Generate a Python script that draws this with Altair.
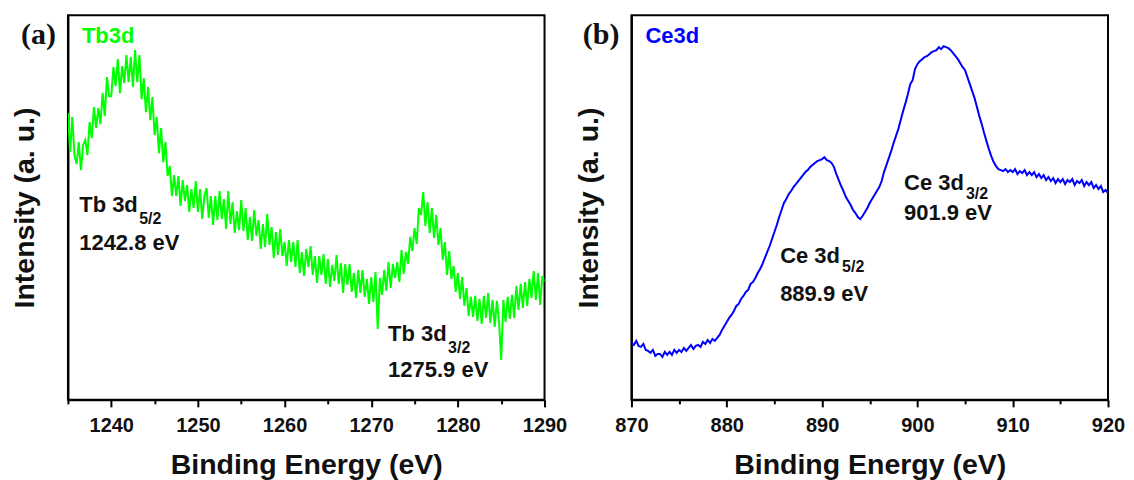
import altair as alt
import pandas as pd

# ---------------- data ----------------
tb_start = 1235.0
tb_step = 0.25
tb_intensity = [
    287, 248, 283, 245, 236, 258, 230, 255, 260, 245, 278, 262,
    293, 272, 292, 276, 307, 284, 323, 304, 304, 333, 314, 341,
    307, 334, 317, 345, 318, 343, 313, 350, 318, 345, 301, 322,
    288, 313, 280, 303, 265, 283, 247, 272, 238, 258, 224, 234,
    204, 225, 204, 224, 194, 220, 199, 215, 188, 211, 192, 219,
    188, 211, 181, 204, 212, 182, 204, 175, 204, 180, 209, 181,
    201, 171, 209, 176, 198, 167, 189, 170, 200, 169, 192, 160,
    183, 159, 190, 164, 180, 151, 176, 153, 186, 155, 173, 142,
    168, 145, 171, 144, 158, 134, 160, 138, 158, 133, 160, 127,
    148, 124, 151, 133, 154, 125, 144, 117, 144, 125, 146, 116,
    141, 113, 135, 119, 145, 116, 137, 107, 136, 115, 136, 108,
    127, 102, 130, 107, 130, 103, 121, 96, 123, 98, 128, 71,
    122, 105, 130, 109, 138, 112, 136, 122, 138, 118, 150, 126,
    148, 136, 163, 149, 172, 156, 192, 185, 208, 174, 198, 167,
    192, 162, 185, 155, 172, 140, 158, 125, 149, 121, 134, 108,
    127, 101, 123, 94, 112, 84, 103, 83, 104, 79, 101, 76,
    104, 82, 107, 77, 100, 73, 99, 78, 40, 100, 78, 103,
    81, 105, 82, 114, 90, 116, 92, 118, 94, 121, 102, 129,
    100, 127, 95, 124, 118,
]
tb_energy = [tb_start + tb_step * i for i in range(len(tb_intensity))]

ce_start = 870.0
ce_step = 0.25
ce_intensity = [
    57, 55, 59, 54, 53, 56, 50, 49, 47, 50, 44, 46, 46, 43, 48, 45,
    48, 45, 50, 47, 50, 48, 52, 49, 52, 55, 51, 54, 55, 53, 58, 56,
    60, 57, 61, 59, 62, 65, 70, 74, 78, 82, 85, 89, 94, 96, 101, 104,
    108, 110, 116, 118, 122, 127, 131, 136, 142, 148, 154, 161,
    168, 175, 183, 190, 197, 201, 206, 209, 213, 216, 219, 222,
    225, 228, 230, 233, 235, 237, 239, 240, 241, 243, 240, 239,
    237, 233, 226, 220, 214, 209, 203, 199, 195, 190, 187, 183,
    181, 184, 188, 192, 197, 201, 205, 209, 213, 219, 228, 235,
    242, 249, 257, 264, 271, 280, 289, 297, 306, 316, 320, 331,
    336, 339, 341, 343, 344, 346, 348, 349, 350, 353, 351, 354,
    353, 352, 350, 347, 344, 341, 337, 333, 330, 323, 316, 309,
    302, 293, 284, 276, 267, 259, 251, 244, 238, 234, 231, 230,
    229, 231, 228, 230, 228, 231, 226, 229, 227, 230, 225, 228,
    225, 228, 223, 226, 222, 225, 220, 223, 219, 222, 217, 221,
    218, 221, 216, 220, 218, 221, 215, 219, 217, 220, 214, 218,
    215, 218, 212, 215, 211, 214, 208, 210, 207,
]
ce_energy = [ce_start + ce_step * i for i in range(len(ce_intensity))]

tb_domain = [1235, 1290]
tb_major = [1240, 1250, 1260, 1270, 1280, 1290]
tb_minor = [1235, 1245, 1255, 1265, 1275, 1285]
ce_domain = [870, 920]
ce_major = [870, 880, 890, 900, 910, 920]
ce_minor = [875, 885, 895, 905, 915]

tb_ann_x = [1236.3, 1271.95]
tb_ann_y1 = [188, 59]
tb_ann_y2 = [150, 23]
tb_ann_main = ["Tb 3d", "Tb 3d"]
tb_ann_sub = ["5/2", "3/2"]
tb_ann_val = ["1242.8 eV", "1275.9 eV"]

ce_ann_x = [885.6, 898.6]
ce_ann_y1 = [137, 210]
ce_ann_y2 = [99, 180]
ce_ann_main = ["Ce 3d", "Ce 3d"]
ce_ann_sub = ["5/2", "3/2"]
ce_ann_val = ["889.9 eV", "901.9 eV"]

SANS = "Liberation Sans"
SERIF = "Liberation Serif"
W, H = 477, 385


def panel(energy, intensity, color, domain, major, minor,
          ax, ay1, ay2, amain, asub, aval, sub_dx, sub_dy, tag, name):
    xs = alt.Scale(domain=domain, nice=False, zero=False)
    ys = alt.Scale(domain=[0, 385], nice=False, zero=False)
    y_axis = alt.Axis(labels=False, ticks=False, title="Intensity (a. u.)",
                      titlePadding=28, grid=False)
    df = pd.DataFrame({"E": energy, "I": intensity})
    line = alt.Chart(df).mark_line(color=color, strokeWidth=2, clip=True).encode(
        x=alt.X("E:Q", scale=xs, axis=alt.Axis(
            values=major, format="d", title="Binding Energy (eV)", orient="bottom",
            tickSize=7, labelPadding=9, titlePadding=15, labelFlush=False,
            grid=False)),
        y=alt.Y("I:Q", scale=ys, axis=y_axis),
    )
    minor_layer = alt.Chart(pd.DataFrame({"E": minor})).mark_point(opacity=0).encode(
        x=alt.X("E:Q", scale=xs, axis=alt.Axis(
            values=minor, labels=False, title=None, tickSize=4, orient="bottom",
            domain=False, grid=False)),
    )
    ann = pd.DataFrame({"x": ax, "y1": ay1, "y2": ay2,
                        "m": amain, "s": asub, "v": aval})
    base = alt.Chart(ann)
    t_main = base.mark_text(align="left", baseline="alphabetic", font=SANS,
                            fontWeight="bold", fontSize=22, color="#111").encode(
        x=alt.X("x:Q", scale=xs, axis=None),
        y=alt.Y("y1:Q", scale=ys, axis=y_axis), text="m:N")
    t_sub = base.mark_text(align="left", baseline="alphabetic", font=SANS,
                           fontWeight="bold", fontSize=16, dx=sub_dx, dy=sub_dy,
                           color="#111").encode(
        x=alt.X("x:Q", scale=xs, axis=None),
        y=alt.Y("y1:Q", scale=ys, axis=y_axis), text="s:N")
    t_val = base.mark_text(align="left", baseline="alphabetic", font=SANS,
                           fontWeight="bold", fontSize=22, color="#111").encode(
        x=alt.X("x:Q", scale=xs, axis=None),
        y=alt.Y("y2:Q", scale=ys, axis=y_axis), text="v:N")
    tag_df = pd.DataFrame({"t": [tag], "n": [name]})
    t_tag = alt.Chart(tag_df).mark_text(align="right", baseline="middle", font=SERIF,
                                        fontWeight="bold", fontSize=30,
                                        color="#111").encode(
        x=alt.value(-12), y=alt.value(20), text="t:N")
    t_name = alt.Chart(tag_df).mark_text(align="left", baseline="alphabetic", font=SANS,
                                         fontWeight="bold", fontSize=22,
                                         color=color).encode(
        x=alt.value(14), y=alt.value(28), text="n:N")
    return alt.layer(line, minor_layer, t_main, t_sub, t_val, t_tag, t_name).resolve_axis(
        x="independent").properties(width=W, height=H)


left = panel(tb_energy, tb_intensity, "#00ff00", tb_domain, tb_major, tb_minor,
             tb_ann_x, tb_ann_y1, tb_ann_y2, tb_ann_main, tb_ann_sub, tb_ann_val,
             60, 12, "(a)", "Tb3d")
right = panel(ce_energy, ce_intensity, "#0000ff", ce_domain, ce_major, ce_minor,
              ce_ann_x, ce_ann_y1, ce_ann_y2, ce_ann_main, ce_ann_sub, ce_ann_val,
              62, 9, "(b)", "Ce3d")

chart = alt.hconcat(left, right, spacing=87, bounds="flush").properties(
    padding={"left": 2, "top": 6, "right": 0, "bottom": 0}
).configure_view(
    stroke="black", strokeWidth=2
).configure_axis(
    domainColor="black", domainWidth=2, tickColor="black", tickWidth=2,
    labelFont=SANS, labelFontWeight="bold", labelFontSize=20, labelColor="#111",
    titleFont=SANS, titleFontWeight="bold", titleFontSize=28.5, titleColor="#111",
)

chart.save("out.html", embed_options={"renderer": "svg", "actions": False})
